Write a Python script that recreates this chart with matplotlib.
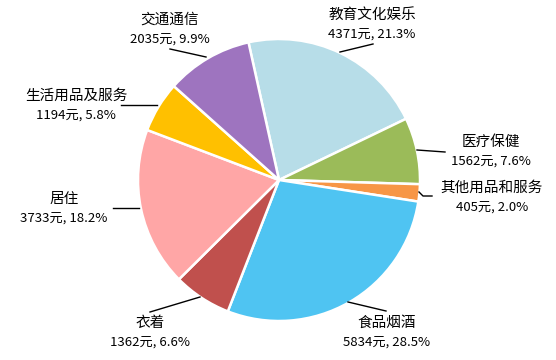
import matplotlib
matplotlib.use("Agg")
import matplotlib.pyplot as plt

categories = ["教育文化娱乐", "医疗保健", "其他用品和服务", "食品烟酒", "衣着", "居住", "生活用品及服务", "交通通信"]
values = [4371, 1562, 405, 5834, 1362, 3733, 1194, 2035]
percents = ["21.3%", "7.6%", "2.0%", "28.5%", "6.6%", "18.2%", "5.8%", "9.9%"]
colors = ["#b7dde8", "#9bbb59", "#f79646", "#4fc4f2", "#c0504d", "#ffa6a6", "#ffc000", "#9e74bf"]

# label name-centre positions (pixels, y from top) and leader lines
label_pos = [(372, 15), (491, 142), (492, 188), (387, 323), (150, 323), (64, 199), (76, 96), (170, 20)]
leaders = [
    [(340, 52), (373, 44)],
    [(417, 150), (445, 152)],
    [(419, 192), (423, 196), (432, 196)],
    [(348, 302), (386, 311)],
    [(200, 297), (150, 312)],
    [(139, 208), (113, 208)],
    [(157, 105), (121, 105)],
    [(206, 57), (170, 49)],
]

W, H = 556, 360
fig = plt.figure(figsize=(W / 100, H / 100), dpi=100)
ax = fig.add_axes([0, 0, 1, 1])

ax.pie(values, colors=colors, startangle=102.5, counterclock=False,
       center=(279, H - 180), radius=141,
       wedgeprops=dict(edgecolor="white", linewidth=1.8), frame=True)
ax.set_xlim(0, W)
ax.set_ylim(0, H)
ax.set_aspect("equal")
ax.axis("off")

fam = ["Noto Sans CJK SC", "DejaVu Sans"]
for cat, v, p, (x, y), ln in zip(categories, values, percents, label_pos, leaders):
    ax.text(x, H - y, cat, ha="center", va="center", fontsize=10.5, family=fam, color="black")
    ax.text(x, H - y - 19, f"{v}元, {p}", ha="center", va="center", fontsize=9.5, family=fam,
            color="black")
    xs = [a for a, b in ln]
    ys = [H - b for a, b in ln]
    ax.plot(xs, ys, color="black", linewidth=1)

fig.savefig("out.png", dpi=100)
